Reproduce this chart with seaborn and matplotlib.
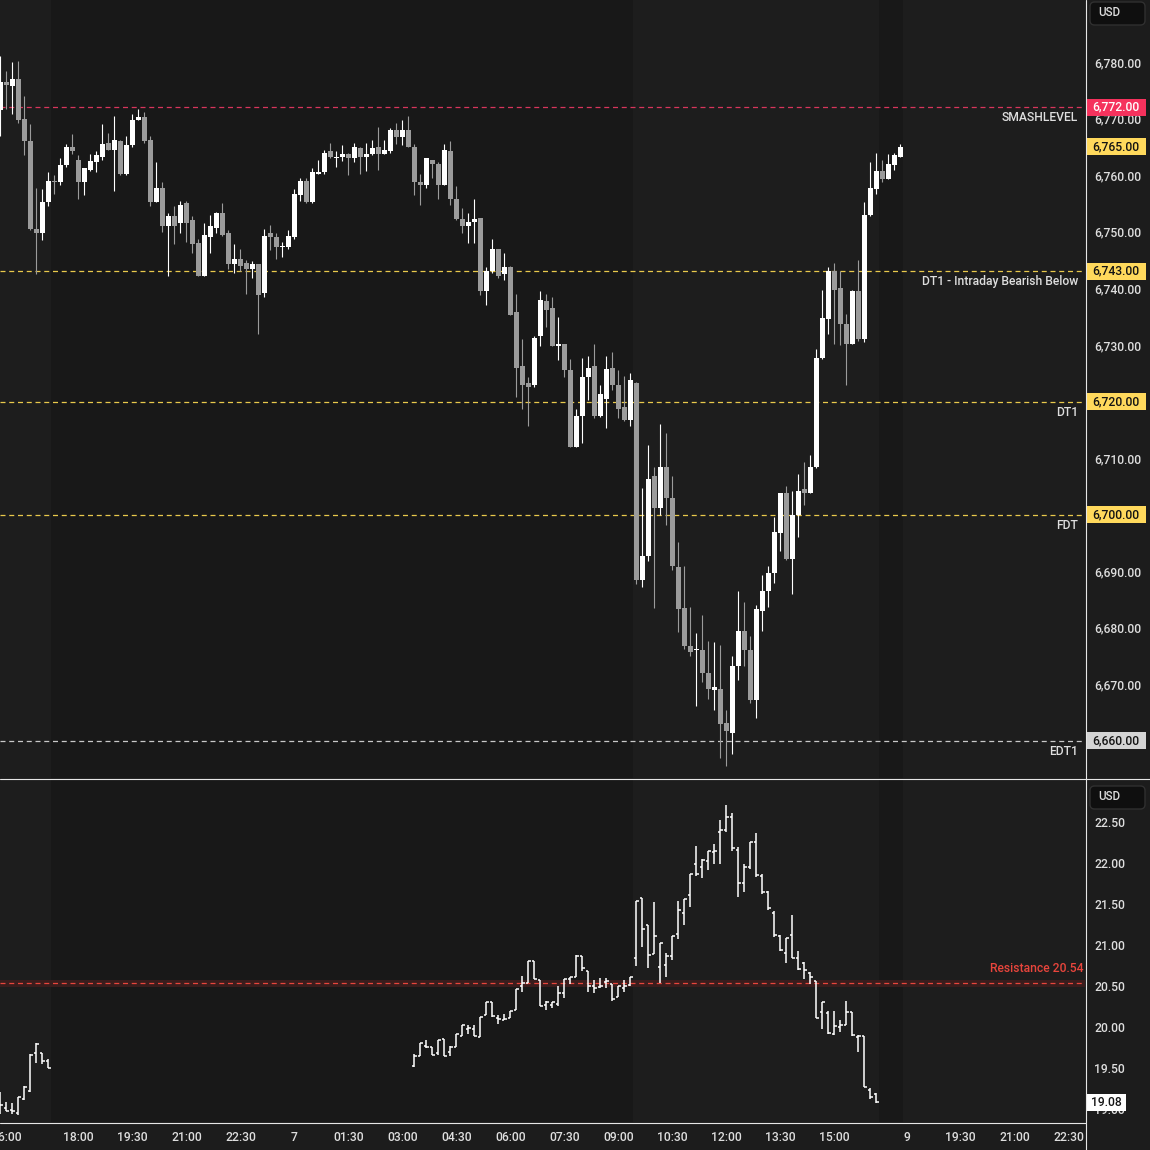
import numpy as np
import matplotlib
matplotlib.use("Agg")
import matplotlib.pyplot as plt
import matplotlib.transforms as mtransforms
from matplotlib.lines import Line2D
from matplotlib.patches import Rectangle, FancyBboxPatch
from matplotlib.ticker import FuncFormatter
import seaborn as sns

# ES 10-minute candles, bar 0 = 15:50
es_open = [6771.5, 6776.5, 6775.75, 6777.0, 6770.0, 6766.0, 6750.5, 6749.75, 6755.25, 6759.0,
           6758.75, 6761.75, 6765.0, 6762.75, 6758.75, 6761.0, 6762.25, 6763.25, 6765.75, 6764.5,
           6766.0, 6760.25, 6765.25, 6769.75, 6770.25, 6766.25, 6755.25, 6757.75, 6751.0, 6752.75,
           6751.5, 6755.0, 6752.0, 6748.0, 6742.25, 6749.0, 6750.75, 6753.25, 6749.75, 6744.25,
           6745.25, 6744.5, 6743.5, 6744.25, 6739.25, 6749.75, 6749.0, 6747.25, 6747.25, 6749.0,
           6756.5, 6759.0, 6755.25, 6760.25, 6760.5, 6764.25, 6763.0, 6763.25, 6763.75, 6763.0,
           6764.75, 6763.25, 6763.75, 6765.0, 6763.75, 6764.25, 6768.0, 6766.75, 6768.0, 6765.0,
           6758.75, 6758.25, 6762.75, 6762.0, 6758.25, 6764.25, 6755.75, 6752.25, 6751.0, 6751.75,
           6752.5, 6739.5, 6743.0, 6747.0, 6742.5, 6743.75, 6735.75, 6726.25, 6723.25, 6723.0,
           6731.5, 6737.75, 6736.5, 6729.75, 6730.25, 6725.5, 6712.0, 6717.5, 6724.25, 6726.25,
           6717.5, 6720.5, 6726.0, 6723.0, 6719.0, 6716.75, 6723.25, 6688.5, 6692.75, 6706.75,
           6701.25, 6708.5, 6703.0, 6690.75, 6683.5, 6676.75, 6676.0, 6676.0, 6672.0, 6669.0,
           6669.25, 6663.25, 6661.5, 6673.25, 6679.5, 6676.0, 6667.25, 6683.0, 6686.5, 6689.75,
           6696.75, 6703.75, 6692.25, 6700.0, 6704.5, 6703.75, 6708.5, 6727.75, 6734.5, 6743.0,
           6740.0, 6733.75, 6730.25, 6739.5, 6731.0, 6753.0, 6757.5, 6760.75, 6759.25, 6761.75,
           6763.25]
es_high = [6781.0, 6778.5, 6780.0, 6780.25, 6774.0, 6769.0, 6757.75, 6757.5, 6760.5, 6760.0,
           6763.0, 6765.5, 6767.25, 6763.5, 6761.25, 6763.75, 6764.25, 6769.0, 6767.5, 6770.5,
           6766.25, 6767.0, 6770.75, 6771.75, 6771.25, 6767.0, 6762.25, 6758.75, 6753.25, 6754.5,
           6755.5, 6755.5, 6752.75, 6748.75, 6751.5, 6753.0, 6753.5, 6755.0, 6750.25, 6747.75,
           6747.0, 6745.0, 6744.75, 6744.25, 6750.5, 6751.25, 6749.75, 6748.25, 6750.25, 6757.5,
           6759.5, 6759.5, 6761.25, 6762.75, 6764.5, 6765.75, 6764.25, 6765.25, 6764.0, 6765.75,
           6765.0, 6765.75, 6766.25, 6768.5, 6766.25, 6768.25, 6769.25, 6769.75, 6770.5, 6765.5,
           6760.25, 6763.0, 6762.75, 6762.25, 6765.5, 6766.0, 6758.0, 6754.25, 6753.25, 6755.75,
           6752.5, 6743.75, 6748.75, 6747.0, 6746.25, 6744.0, 6739.0, 6731.0, 6724.25, 6731.5,
           6739.5, 6739.0, 6738.5, 6735.0, 6730.25, 6727.5, 6718.75, 6727.75, 6728.0, 6730.25,
           6723.0, 6728.0, 6728.75, 6725.5, 6724.5, 6725.0, 6723.5, 6704.75, 6712.25, 6708.5,
           6716.0, 6714.5, 6706.75, 6695.25, 6691.0, 6683.75, 6679.0, 6682.25, 6677.75, 6677.5,
           6677.0, 6665.5, 6675.0, 6686.5, 6684.5, 6678.5, 6684.0, 6689.25, 6691.0, 6699.5,
           6703.75, 6705.0, 6704.25, 6707.25, 6709.25, 6710.5, 6729.25, 6739.75, 6743.75, 6744.5,
           6743.0, 6735.5, 6739.75, 6745.0, 6755.25, 6762.25, 6764.0, 6762.75, 6763.75, 6764.0,
           6765.5]
es_low = [6767.0, 6771.75, 6770.75, 6769.25, 6763.5, 6750.25, 6742.5, 6748.5, 6754.5, 6756.75,
          6758.25, 6761.5, 6763.75, 6755.75, 6756.5, 6760.75, 6760.5, 6762.75, 6764.5, 6757.25,
          6760.0, 6760.0, 6765.0, 6769.75, 6765.75, 6754.5, 6755.25, 6750.0, 6742.25, 6747.75,
          6749.75, 6748.25, 6746.25, 6742.25, 6742.25, 6746.25, 6749.75, 6749.25, 6743.5, 6742.75,
          6743.0, 6739.0, 6741.75, 6732.0, 6738.5, 6746.75, 6745.25, 6745.5, 6747.0, 6748.75,
          6755.5, 6755.0, 6755.0, 6760.25, 6760.25, 6763.0, 6761.5, 6762.5, 6760.0, 6762.25,
          6760.25, 6760.75, 6763.5, 6761.0, 6763.75, 6764.0, 6765.5, 6765.25, 6765.0, 6756.5,
          6754.75, 6757.75, 6759.5, 6755.75, 6758.25, 6754.75, 6752.0, 6749.75, 6748.0, 6748.0,
          6738.75, 6737.0, 6742.75, 6741.75, 6741.5, 6735.25, 6720.75, 6718.75, 6715.75, 6722.5,
          6729.75, 6733.25, 6729.75, 6727.25, 6724.25, 6712.0, 6712.0, 6712.75, 6720.25, 6717.0,
          6717.25, 6715.25, 6722.0, 6717.0, 6716.5, 6715.75, 6687.75, 6687.25, 6691.75, 6683.5,
          6700.0, 6698.25, 6690.25, 6679.25, 6676.25, 6675.0, 6666.25, 6670.5, 6667.5, 6665.5,
          6657.0, 6655.5, 6657.75, 6670.75, 6673.25, 6666.75, 6664.0, 6679.5, 6683.75, 6688.0,
          6693.5, 6692.0, 6686.0, 6696.0, 6701.75, 6703.75, 6708.25, 6727.5, 6732.0, 6730.25,
          6730.0, 6723.0, 6730.25, 6730.75, 6730.5, 6752.75, 6756.75, 6758.75, 6759.25, 6761.0,
          6763.25]
es_close = [6776.5, 6776.0, 6777.0, 6769.75, 6766.0, 6750.5, 6749.75, 6755.25, 6759.0, 6758.75,
            6761.75, 6765.0, 6764.25, 6758.75, 6761.25, 6762.5, 6763.5, 6765.5, 6764.5, 6766.25,
            6760.25, 6765.25, 6769.75, 6770.25, 6766.0, 6755.25, 6757.75, 6751.0, 6752.75, 6751.0,
            6754.75, 6751.5, 6747.75, 6742.25, 6749.5, 6751.0, 6753.25, 6749.5, 6744.25, 6745.25,
            6744.0, 6743.5, 6744.25, 6738.75, 6749.25, 6749.0, 6747.25, 6747.5, 6749.25, 6756.75,
            6759.0, 6755.25, 6760.5, 6760.5, 6764.0, 6763.25, 6763.25, 6763.75, 6763.0, 6765.0,
            6763.25, 6763.75, 6764.75, 6763.75, 6764.5, 6768.0, 6766.75, 6768.0, 6765.0, 6758.75,
            6758.25, 6763.0, 6762.0, 6758.25, 6764.5, 6755.75, 6752.25, 6751.0, 6751.75, 6752.25,
            6739.5, 6743.0, 6747.0, 6742.25, 6743.75, 6735.25, 6726.0, 6723.0, 6722.5, 6731.25,
            6738.0, 6736.25, 6729.75, 6730.25, 6725.5, 6712.0, 6717.5, 6724.25, 6726.0, 6717.5,
            6721.25, 6725.75, 6723.0, 6718.75, 6716.75, 6723.75, 6688.5, 6692.75, 6706.25, 6701.25,
            6708.5, 6703.0, 6691.0, 6683.25, 6676.75, 6675.75, 6676.25, 6672.0, 6669.25, 6669.5,
            6663.0, 6661.75, 6673.25, 6679.5, 6676.0, 6667.25, 6683.25, 6686.5, 6689.75, 6697.0,
            6703.75, 6692.25, 6700.0, 6704.25, 6703.75, 6708.5, 6727.75, 6734.75, 6743.0, 6739.75,
            6733.75, 6730.25, 6739.5, 6731.0, 6753.0, 6757.75, 6760.75, 6759.25, 6762.0, 6763.5,
            6765.0]

# VIX 10-minute OHLC bars (same bar numbering)
vix_bar = list(range(0, 9)) + list(range(69, 147))
vix_open = [19.10, 19.01, 18.99, 18.95, 19.12, 19.22, 19.68, 19.68, 19.58,
            19.52, 19.64, 19.77, 19.75, 19.68, 19.85, 19.69, 19.76, 19.89, 19.98,
            19.98, 19.88, 20.14, 20.30, 20.11, 20.09, 20.11, 20.21, 20.50, 20.54,
            20.80, 20.57, 20.27, 20.27, 20.28, 20.41, 20.58, 20.61, 20.86, 20.68,
            20.50, 20.49, 20.55, 20.52, 20.36, 20.47, 20.51, 20.84, 21.57, 21.24,
            20.89, 20.73, 20.76, 20.86, 21.13, 21.39, 21.61, 21.99, 21.95, 22.02,
            22.13, 22.38, 22.40, 22.56, 22.16, 21.75, 21.95, 22.25, 21.84, 21.64,
            21.39, 21.11, 20.90, 21.12, 20.84, 20.78, 20.66, 20.56, 20.18, 20.17,
            19.91, 20.00, 20.02, 20.18, 19.88, 19.89, 19.23, 19.18]
vix_high = [19.21, 19.09, 19.07, 19.15, 19.28, 19.67, 19.81, 19.68, 19.61,
            19.67, 19.80, 19.84, 19.76, 19.84, 19.85, 19.77, 19.91, 20.02, 20.02,
            20.02, 20.12, 20.30, 20.30, 20.15, 20.16, 20.19, 20.46, 20.62, 20.81,
            20.80, 20.57, 20.32, 20.30, 20.50, 20.59, 20.61, 20.88, 20.87, 20.68,
            20.57, 20.60, 20.60, 20.52, 20.50, 20.57, 20.61, 21.54, 21.57, 21.24,
            21.52, 21.03, 20.90, 21.11, 21.54, 21.56, 21.86, 22.21, 22.05, 22.15,
            22.23, 22.52, 22.71, 22.61, 22.20, 21.99, 22.26, 22.36, 21.87, 21.66,
            21.41, 21.12, 21.09, 21.37, 20.93, 20.79, 20.67, 20.56, 20.30, 20.19,
            20.20, 20.09, 20.32, 20.18, 19.90, 19.89, 19.26, 19.19]
vix_low = [18.94, 18.97, 18.94, 18.93, 19.11, 19.21, 19.56, 19.55, 19.50,
           19.51, 19.64, 19.74, 19.66, 19.66, 19.65, 19.65, 19.76, 19.89, 19.91,
           19.89, 19.88, 20.14, 20.12, 20.04, 20.09, 20.11, 20.21, 20.43, 20.54,
           20.58, 20.26, 20.21, 20.23, 20.26, 20.35, 20.52, 20.61, 20.68, 20.43,
           20.41, 20.48, 20.48, 20.32, 20.36, 20.43, 20.50, 20.74, 20.98, 20.72,
           20.89, 20.54, 20.61, 20.82, 21.07, 21.24, 21.46, 21.84, 21.82, 21.91,
           21.99, 21.99, 22.38, 22.14, 21.59, 21.65, 21.93, 21.83, 21.62, 21.43,
           21.10, 20.93, 20.78, 20.84, 20.69, 20.58, 20.52, 20.11, 19.97, 19.92,
           19.90, 19.94, 20.02, 19.89, 19.70, 19.27, 19.12, 19.07]
vix_close = [19.05, 18.98, 18.98, 19.14, 19.27, 19.66, 19.79, 19.58, 19.50,
             19.64, 19.80, 19.75, 19.66, 19.84, 19.65, 19.76, 19.91, 20.02, 19.99,
             19.89, 20.12, 20.30, 20.13, 20.10, 20.10, 20.19, 20.46, 20.54, 20.80,
             20.59, 20.26, 20.30, 20.30, 20.42, 20.58, 20.61, 20.87, 20.72, 20.50,
             20.47, 20.50, 20.56, 20.34, 20.50, 20.50, 20.61, 21.54, 21.20, 20.88,
             21.11, 21.03, 20.87, 21.11, 21.43, 21.56, 21.86, 21.87, 22.04, 22.14,
             22.15, 22.40, 22.56, 22.18, 21.75, 21.95, 22.25, 21.85, 21.64, 21.45,
             21.12, 20.94, 21.08, 20.84, 20.71, 20.70, 20.61, 20.11, 20.30, 19.93,
             20.01, 20.02, 20.18, 19.90, 19.89, 19.27, 19.15, 19.08]

level_price = [6772, 6743, 6720, 6700, 6660]
level_name = ["SMASHLEVEL", "DT1 - Intraday Bearish Below", "DT1", "FDT", "EDT1"]
level_line = ["#d8355c", "#e9c94c", "#e9c94c", "#e9c94c", "#c9c9c9"]
level_box = ["#f5325d", "#ffd95c", "#ffd95c", "#ffd95c", "#d4d4d4"]
level_txt = ["#ffffff", "#131313", "#131313", "#131313", "#131313"]
resistance = 20.54
last_es = 6765.0
last_vix = 19.08

time_text = ["16:00", "18:00", "19:30", "21:00", "22:30", "7", "01:30", "03:00", "04:30",
             "06:00", "07:30", "09:00", "10:30", "12:00", "13:30", "15:00", "9", "19:30",
             "21:00", "22:30"]
time_bar = [1, 13, 22, 31, 40, 49, 58, 67, 76, 85, 94, 103, 112, 121, 130, 139, 151, 160, 169, 178]

# regular-session shading (bar boundaries)
rth_spans = [(-2, 8.5), (105.5, 146.5), (150.5, 190)]

sns.set_style("dark", {"axes.facecolor": "#181818", "figure.facecolor": "#1c1c1c"})
plt.rcParams["font.family"] = ["Roboto", "Liberation Sans", "DejaVu Sans"]
plt.rcParams["font.weight"] = "medium"

W = H = 1150
fig = plt.figure(figsize=(11.5, 11.5), dpi=100)
ax1 = fig.add_axes([0, 372 / H, 1085 / W, 778 / H])
ax2 = fig.add_axes([0, 28 / H, 1085 / W, 342 / H])
ax3 = fig.add_axes([0, 0, 1085 / W, 27 / H])

XLIM = (-0.08, 180.75)
TXT = "#dedede"
FS = 8.7

for ax in (ax1, ax2, ax3):
    ax.set_xlim(*XLIM)
    for s in ax.spines.values():
        s.set_visible(False)
    ax.set_xticks([])
ax3.set_facecolor("#1c1c1c")
ax3.set_yticks([])

ax1.set_ylim(6653.46, 6790.96)
ax2.set_ylim(18.841, 23.012)

for ax in (ax1, ax2):
    for a, b in rth_spans:
        ax.axvspan(a, b, color="#1d1d1d", lw=0, zorder=0)
    ax.yaxis.tick_right()
    ax.tick_params(axis="y", length=0, pad=6.5, labelsize=FS, labelcolor=TXT)
    ax.grid(False)

ax1.set_yticks(np.arange(6670, 6781, 10))
ax2.set_yticks(np.arange(19.0, 22.51, 0.5))
ax1.yaxis.set_major_formatter(FuncFormatter(lambda v, p: f"{v:,.2f}"))
ax2.yaxis.set_major_formatter(FuncFormatter(lambda v, p: f"{v:.2f}"))

# candles
o = np.array(es_open); h = np.array(es_high); l = np.array(es_low); c = np.array(es_close)
bars = np.arange(len(o))
up = c >= o
cols = np.where(up, "#ffffff", "#9b9b9b")
ax1.vlines(bars, l, h, colors=cols, lw=0.8, zorder=3)
ax1.bar(bars, np.maximum(np.abs(c - o), 0.2), bottom=np.minimum(o, c), width=0.82,
        color=cols, lw=0, zorder=4)

# VIX OHLC bars
vb = np.array(vix_bar)
ax2.vlines(vb, vix_low, vix_high, color="white", lw=1.1, zorder=4)
ax2.hlines(vix_open, vb - 0.42, vb, color="white", lw=1.1, zorder=4)
ax2.hlines(vix_close, vb, vb + 0.42, color="white", lw=1.1, zorder=4)

px1 = (6790.96 - 6653.46) / 778
px2 = (23.012 - 18.841) / 342
bt1 = mtransforms.blended_transform_factory(ax1.transAxes, ax1.transData)
bt2 = mtransforms.blended_transform_factory(ax2.transAxes, ax2.transData)


def price_box(ax, bt, px, y, txt, fc, tc, x0=1086, x1=1146):
    ax.add_patch(Rectangle((x0 / 1085, y - 8.5 * px), (x1 - x0) / 1085, 17 * px,
                           transform=bt, fc=fc, ec="none", clip_on=False, zorder=8))
    ax.text((x0 + x1) / 2 / 1085, y, txt, transform=bt, ha="center", va="center",
            fontsize=FS, color=tc, clip_on=False, zorder=9)


for p, name, lc, bc, tc in zip(level_price, level_name, level_line, level_box, level_txt):
    ax1.axhline(p, color=lc, lw=0.9, ls=(0, (4, 3)), zorder=2)
    ax1.text(1078 / 1085, p - 10.5 * px1, name, transform=bt1, ha="right", va="center",
             fontsize=FS, color=TXT, zorder=6)
    price_box(ax1, bt1, px1, p, f"{p:,.2f}", bc, tc)
price_box(ax1, bt1, px1, last_es, f"{last_es:,.2f}", "#ffd95c", "#131313")

# VIX resistance
ax2.axhspan(resistance - 0.05, resistance + 0.035, color="#3a1d1d", lw=0, zorder=1)
ax2.axhline(resistance, color="#e8453c", lw=0.9, ls=(0, (4, 3)), zorder=2)
ax2.text(1083 / 1085, resistance + 13.7 * px2, f"Resistance {resistance:.2f}", transform=bt2,
         ha="right", va="center", fontsize=FS, color="#e8453c", zorder=6)
price_box(ax2, bt2, px2, last_vix, f"{last_vix:.2f}", "#ffffff", "#131313", 1086, 1126)

# time axis labels
for b, t in zip(time_bar, time_text):
    ax3.text(b, 0.48, t, ha="center", va="center", fontsize=FS, color=TXT, clip_on=True)

# USD boxes
for top in (1, 785):
    fig.add_artist(FancyBboxPatch((1090 / W, 1 - (top + 24) / H), 55 / W, 23 / H,
                                  boxstyle="round,pad=0,rounding_size=0.004",
                                  transform=fig.transFigure, fc="#0f0f0f", ec="#303030", lw=1))
    fig.text(1098 / W, 1 - (top + 12) / H, "USD", ha="left", va="center", fontsize=FS - 0.3,
             color=TXT)

# separators
fig.add_artist(Line2D([0, 1], [1 - 778.5 / H] * 2, color="#e6e6e6", lw=0.8))
fig.add_artist(Line2D([0, 1085.5 / W], [1 - 1122.5 / H] * 2, color="#e6e6e6", lw=0.8))
fig.add_artist(Line2D([1085.5 / W] * 2, [0, 1], color="#e6e6e6", lw=0.8))

fig.savefig("out.png", dpi=100, facecolor=fig.get_facecolor())
